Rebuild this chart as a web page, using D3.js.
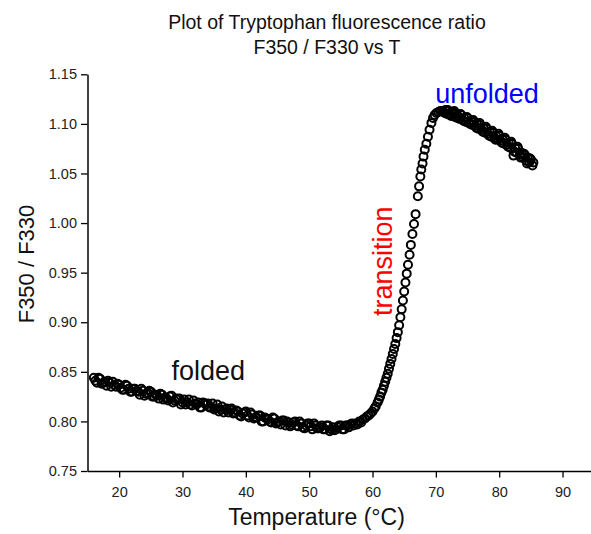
<!DOCTYPE html>
<html>
<head>
<meta charset="utf-8">
<script src="https://cdn.jsdelivr.net/npm/d3@7"></script>
<style>
  html, body { margin: 0; padding: 0; background: #ffffff; }
  svg { display: block; }
  text { font-family: "Liberation Sans", Arial, Helvetica, sans-serif; }
</style>
</head>
<body>
<svg id="chart" width="591" height="534"></svg>
<script>
// ---------------- DATA ----------------
const titleLines = ["Plot of Tryptophan fluorescence ratio", "F350 / F330 vs T"];
const xAxisTitle = "Temperature (°C)";
const yAxisTitle = "F350 / F330";

const xTickValues = [20, 30, 40, 50, 60, 70, 80, 90];
const xMinorTickValues = [15, 25, 35, 45, 55, 65, 75, 85];
const yTickValues = [0.75, 0.80, 0.85, 0.90, 0.95, 1.00, 1.05, 1.10, 1.15];
const yMinorTickValues = [0.775, 0.825, 0.875, 0.925, 0.975, 1.025, 1.075, 1.125];

const annotationLabels = ["folded", "transition", "unfolded"];

// folded baseline (dense, overlapping markers)
const foldedTemp = [16.0,16.5,17.0,17.5,18.0,18.5,19.0,19.5,20.0,20.5,21.0,21.5,22.0,22.5,23.0,23.5,24.0,24.5,25.0,25.5,
  26.0,26.5,27.0,27.5,28.0,28.5,29.0,29.5,30.0,30.5,31.0,31.5,32.0,32.5,33.0,33.5,34.0,34.5,35.0,35.5,
  36.0,36.5,37.0,37.5,38.0,38.5,39.0,39.5,40.0,40.5,41.0,41.5,42.0,42.5,43.0,43.5,44.0,44.5,45.0,45.5,
  46.0,46.5,47.0,47.5,48.0,48.5,49.0,49.5,50.0,50.5,51.0,51.5,52.0,52.5,53.0,53.5,54.0,54.5,55.0,55.5,56.0,56.5];
const foldedRatio = [0.844,0.839,0.843,0.839,0.836,0.839,0.840,0.835,0.837,0.832,0.837,0.833,0.830,0.833,0.830,0.833,0.826,0.829,0.830,0.825,
  0.826,0.828,0.822,0.823,0.825,0.819,0.823,0.823,0.819,0.817,0.822,0.816,0.818,0.819,0.814,0.818,0.818,0.814,0.812,0.817,
  0.812,0.809,0.813,0.812,0.808,0.811,0.806,0.808,0.810,0.804,0.807,0.804,0.806,0.800,0.804,0.802,0.799,0.803,0.799,0.797,
  0.801,0.800,0.795,0.799,0.796,0.800,0.794,0.796,0.798,0.792,0.796,0.793,0.796,0.792,0.796,0.792,0.791,0.794,0.796,0.792,0.796,0.797];

// folded baseline, in-between readings
const foldedTempMid = [16.25,16.75,17.25,17.75,18.25,18.75,19.25,19.75,20.25,20.75,21.25,21.75,22.25,22.75,23.25,23.75,24.25,24.75,25.25,25.75,
  26.25,26.75,27.25,27.75,28.25,28.75,29.25,29.75,30.25,30.75,31.25,31.75,32.25,32.75,33.25,33.75,34.25,34.75,35.25,35.75,
  36.25,36.75,37.25,37.75,38.25,38.75,39.25,39.75,40.25,40.75,41.25,41.75,42.25,42.75,43.25,43.75,44.25,44.75,45.25,45.75,
  46.25,46.75,47.25,47.75,48.25,48.75,49.25,49.75,50.25,50.75,51.25,51.75,52.25,52.75,53.25,53.75,54.25,54.75,55.25,55.75,56.25,56.75];
const foldedRatioMid = [0.841,0.844,0.838,0.840,0.841,0.835,0.837,0.838,0.834,0.832,0.836,0.830,0.833,0.831,0.827,0.831,0.828,0.831,0.825,0.827,
  0.823,0.827,0.824,0.821,0.826,0.821,0.822,0.817,0.822,0.819,0.817,0.821,0.817,0.814,0.819,0.817,0.814,0.818,0.813,0.810,
  0.815,0.812,0.809,0.813,0.809,0.810,0.805,0.809,0.806,0.809,0.803,0.804,0.806,0.800,0.803,0.800,0.804,0.798,0.800,0.801,
  0.796,0.799,0.797,0.800,0.795,0.798,0.793,0.798,0.795,0.798,0.793,0.794,0.792,0.796,0.790,0.794,0.792,0.796,0.792,0.796,0.794,0.798];

// transition
const transitionTemp = [57.0,57.3,57.6,57.9,58.2,58.5,58.8,59.1,59.4,59.7,60.0,60.3,60.5,60.8,61.0,61.2,61.4,61.6,61.8,62.0,
  62.2,62.4,62.6,62.8,63.0,63.2,63.4,63.6,63.8,64.0,64.2,64.4,64.6,64.8,65.0,65.2,65.4,65.6,65.85,66.05,
  66.3,66.55,66.8,67.15,67.35,67.55,67.7,67.9,68.05,68.25,68.5,68.75,69.0,69.3,69.55,69.8,70.1,70.4,70.7,71.0];
const transitionRatio = [0.796,0.798,0.797,0.800,0.799,0.802,0.803,0.805,0.806,0.808,0.810,0.813,0.815,0.819,0.822,0.825,0.829,0.832,0.836,0.840,
  0.844,0.848,0.853,0.858,0.863,0.868,0.873,0.878,0.884,0.890,0.897,0.905,0.913,0.922,0.931,0.940,0.949,0.958,0.968,0.978,
  0.989,0.999,1.009,1.027,1.037,1.047,1.054,1.060,1.067,1.074,1.080,1.087,1.094,1.101,1.106,1.109,1.111,1.112,1.113,1.113];

// unfolded
const unfoldedTemp = [71.25,71.5,71.75,72.0,72.25,72.5,72.75,73.0,73.25,73.5,73.75,74.0,74.25,74.5,74.75,75.0,75.25,75.5,75.75,76.0,
  76.25,76.5,76.75,77.0,77.25,77.5,77.75,78.0,78.25,78.5,78.75,79.0,79.25,79.5,79.75,80.0,80.25,80.5,80.75,81.0,
  81.25,81.5,81.75,82.0,82.25,82.5,82.75,83.0,83.25,83.5,83.75,84.0,84.25,84.5,84.75,85.0,85.25,85.4];
const unfoldedRatio = [1.112,1.114,1.110,1.113,1.109,1.111,1.112,1.107,1.110,1.108,1.105,1.109,1.104,1.106,1.102,1.106,1.101,1.103,1.099,1.102,
  1.098,1.100,1.095,1.099,1.094,1.096,1.091,1.095,1.090,1.092,1.087,1.091,1.086,1.088,1.084,1.088,1.083,1.085,1.080,1.084,
  1.079,1.081,1.076,1.080,1.068,1.076,1.071,1.075,1.069,1.071,1.066,1.069,1.063,1.066,1.061,1.064,1.058,1.061];

const unfoldedTempMid = [71.4,71.9,72.4,72.9,73.4,73.9,74.4,74.9,75.4,75.9,76.4,76.9,77.4,77.9,78.4,78.9,79.4,79.9,80.4,80.9,
  81.4,81.9,82.4,82.9,83.4,83.9,84.4,84.9];
const unfoldedRatioMid = [1.111,1.114,1.108,1.113,1.106,1.110,1.103,1.107,1.100,1.104,1.096,1.101,1.092,1.097,1.088,1.093,1.084,1.090,1.081,1.086,
  1.077,1.082,1.072,1.077,1.066,1.070,1.060,1.065];

// ---------------- CHART ----------------
const temps = foldedTemp.concat(foldedTempMid, transitionTemp, unfoldedTemp, unfoldedTempMid);
const ratios = foldedRatio.concat(foldedRatioMid, transitionRatio, unfoldedRatio, unfoldedRatioMid);
const points = temps.map((t, i) => ({ t: t, r: ratios[i] }));

const svg = d3.select("#chart");
const font = '"Liberation Sans", Arial, Helvetica, sans-serif';

const x = d3.scaleLinear().domain([15, 95]).range([87.5, 594.2]);
const y = d3.scaleLinear().domain([0.75, 1.15]).range([471, 74.3]);

// title
svg.append("g").selectAll("text").data(titleLines).enter().append("text")
  .attr("x", 327)
  .attr("y", (d, i) => 28.5 + i * 25)
  .attr("text-anchor", "middle")
  .attr("font-size", 19.5)
  .attr("fill", "#111")
  .text(d => d);

// points
svg.append("g").selectAll("circle").data(points).enter().append("circle")
  .attr("cx", d => x(d.t))
  .attr("cy", d => y(d.r))
  .attr("r", 4)
  .attr("fill", "none")
  .attr("stroke", "#000")
  .attr("stroke-width", 2);

// x axis
const gx = svg.append("g").attr("transform", "translate(0," + y(0.75) + ")");
gx.call(d3.axisBottom(x).tickValues(xMinorTickValues).tickSize(3.5).tickSizeOuter(0).tickFormat(""));
gx.call(d3.axisBottom(x).tickValues(xTickValues).tickSize(6.5).tickSizeOuter(0).tickPadding(9.5).tickFormat(d3.format("d")));

// y axis
const gy = svg.append("g").attr("transform", "translate(" + x(15) + ",0)");
gy.call(d3.axisLeft(y).tickValues(yMinorTickValues).tickSize(3.5).tickSizeOuter(0).tickFormat(""));
gy.call(d3.axisLeft(y).tickValues(yTickValues).tickSize(6.5).tickSizeOuter(0).tickPadding(4).tickFormat(d3.format(".2f")));

svg.selectAll(".domain").attr("stroke", "#000").attr("stroke-width", 1.5);
svg.selectAll(".tick line").attr("stroke", "#000").attr("stroke-width", 1.3);
svg.selectAll(".tick text").attr("font-family", font).attr("font-size", 14.5).attr("fill", "#222");

// axis titles
svg.append("text")
  .attr("x", 316.5).attr("y", 524.5)
  .attr("text-anchor", "middle")
  .attr("font-size", 23)
  .attr("fill", "#111")
  .text(xAxisTitle);

svg.append("text")
  .attr("transform", "translate(33.5,264) rotate(-90)")
  .attr("text-anchor", "middle")
  .attr("font-size", 22)
  .attr("fill", "#111")
  .text(yAxisTitle);

// annotations
svg.append("text")
  .attr("x", x(28.25)).attr("y", 379.5)
  .attr("font-size", 27).attr("fill", "#111")
  .text(annotationLabels[0]);

svg.append("text")
  .attr("transform", "translate(" + (x(63.8) - 5) + "," + 316 + ") rotate(-90)")
  .attr("font-size", 27).attr("fill", "#ff0000")
  .text(annotationLabels[1]);

svg.append("text")
  .attr("x", x(69.9)).attr("y", 102.5)
  .attr("font-size", 27).attr("fill", "#0000ff")
  .text(annotationLabels[2]);
</script>
</body>
</html>
